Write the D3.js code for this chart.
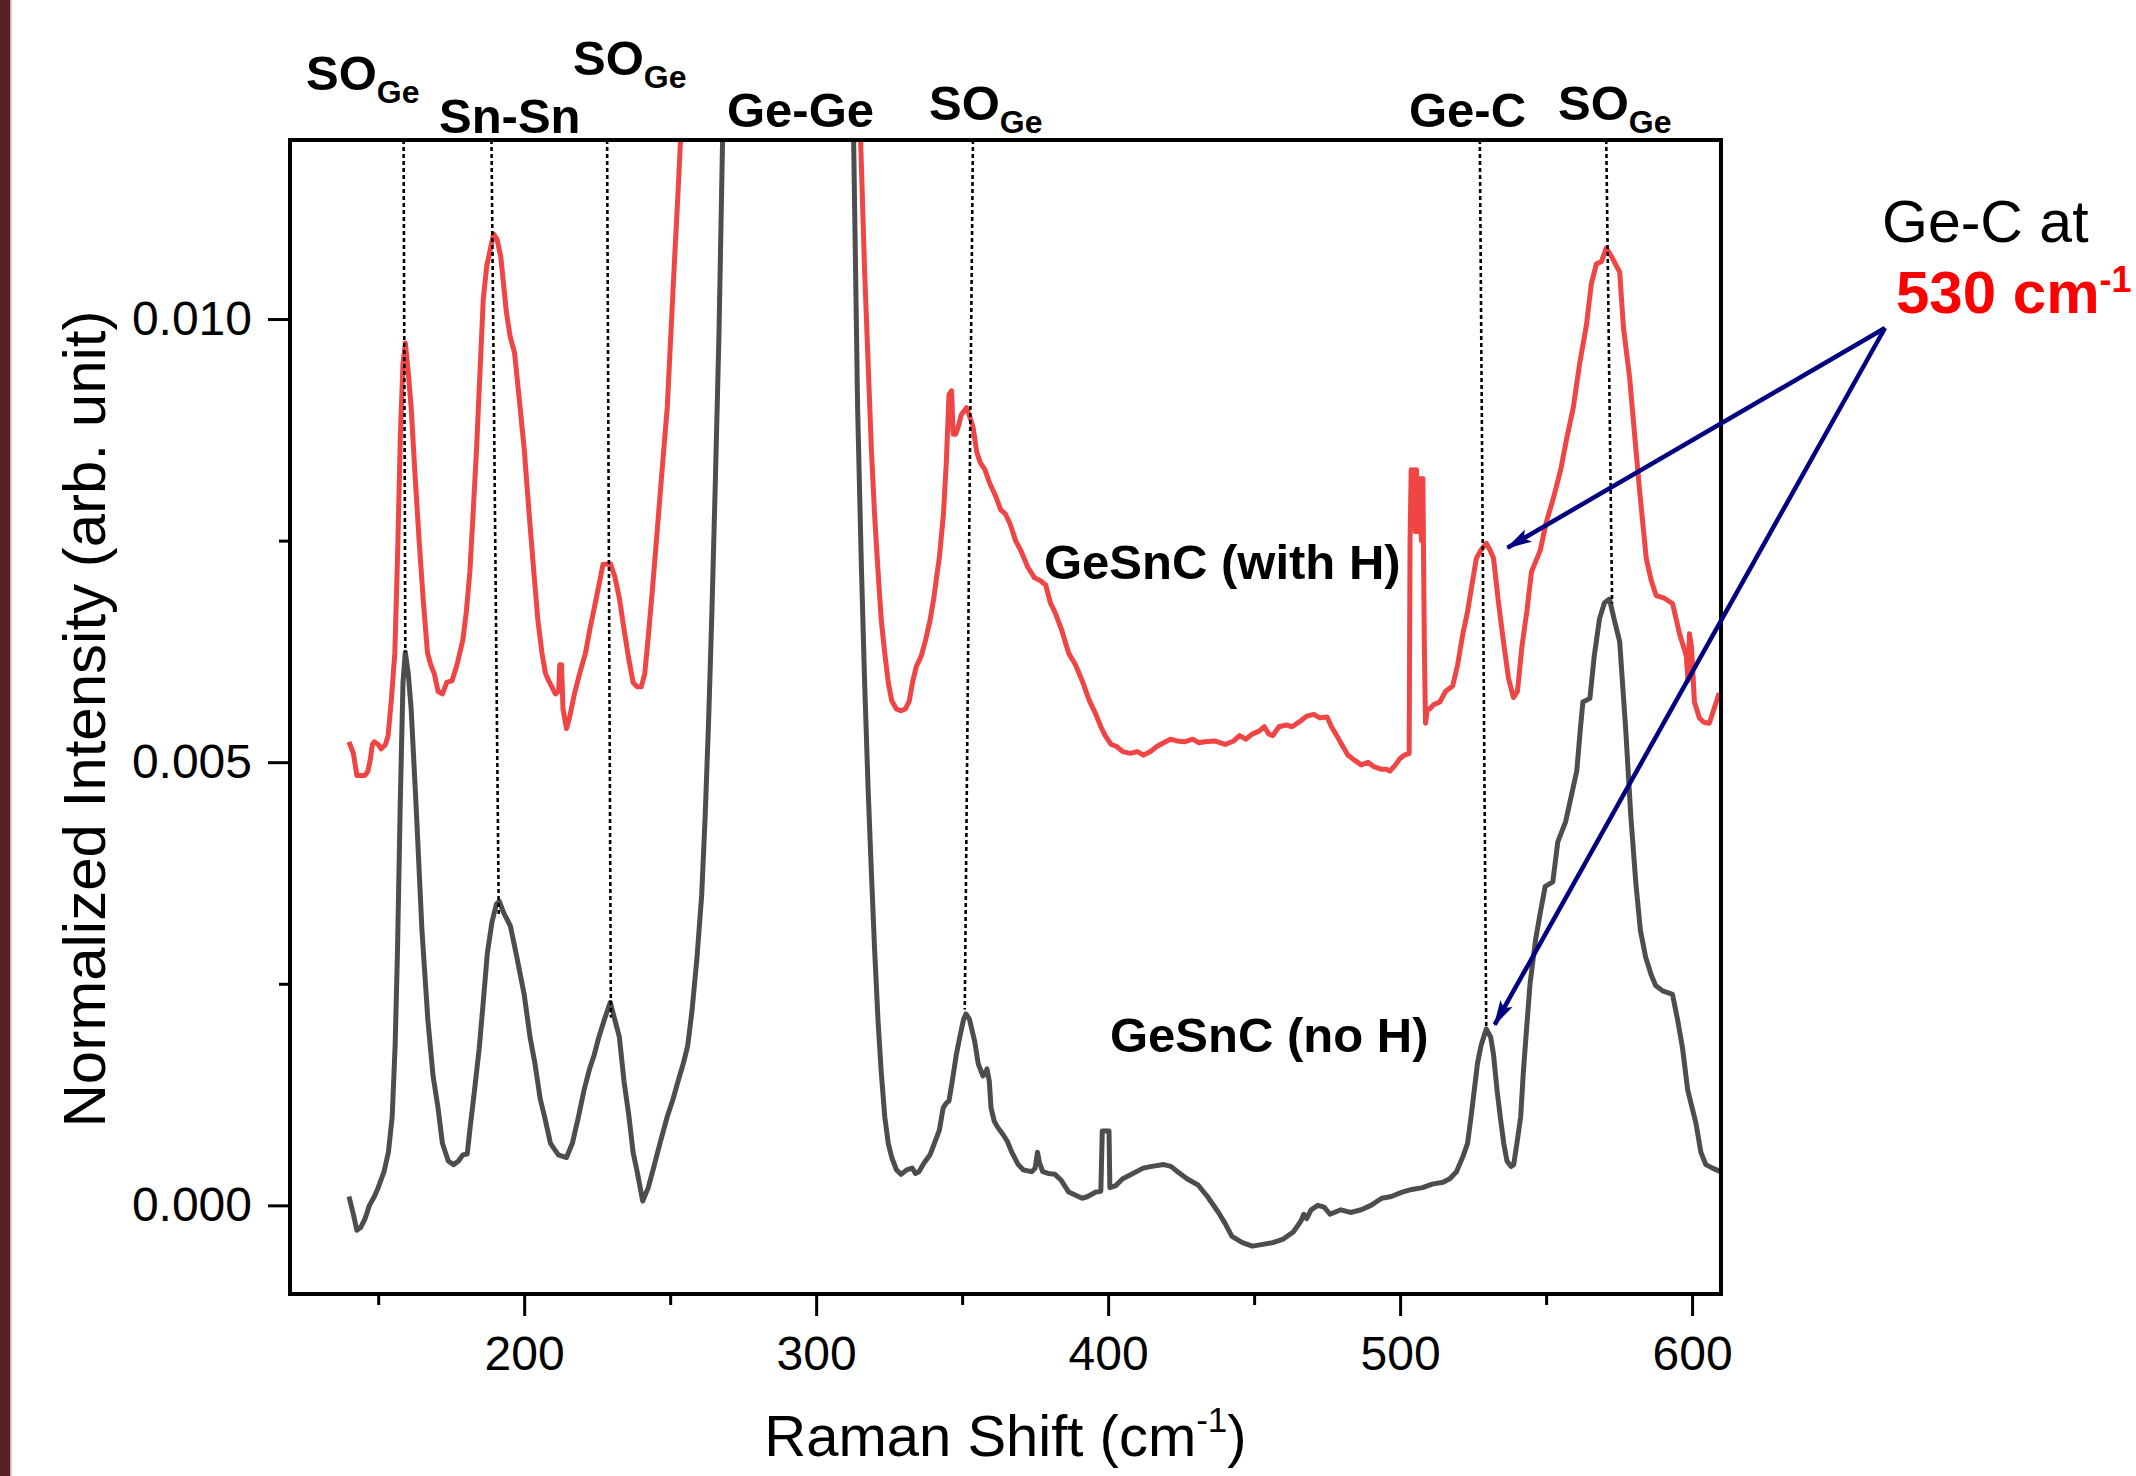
<!DOCTYPE html>
<html>
<head>
<meta charset="utf-8">
<script src="https://cdn.jsdelivr.net/npm/d3@7"></script>
<style>
    body { margin: 0; background: #ffffff; }
    svg text { font-family: "Liberation Sans", Arial, Helvetica, sans-serif; }
</style>
</head>
<body>
<div id="chart"></div>
<script>
(function() {

    // Raman spectrum, GeSnC grown without hydrogen  [shift cm-1, normalized intensity]
    const noH = [
        [140, 0.0001], [141.5, -0.0001], [142.7, -0.00028], [144, -0.00025], [145.5, -0.00015],
        [147, 0.0], [148.7, 0.0001], [150, 0.0002], [152, 0.00038], [153.5, 0.0006],
        [154.8, 0.001], [155.8, 0.0018], [156.6, 0.00285], [157.6, 0.0046], [158.5, 0.0059],
        [159.3, 0.00624], [160.3, 0.006], [161.3, 0.0056], [163, 0.0045], [165, 0.0031],
        [167, 0.0021], [168.8, 0.00146], [170.5, 0.0011], [172, 0.0007], [174, 0.0005],
        [175.8, 0.00046], [177.5, 0.0005], [179, 0.00057], [180.5, 0.00058], [181.4, 0.00085],
        [183, 0.0013], [184.6, 0.00177], [186, 0.0023], [187.4, 0.00285], [189, 0.0032],
        [190.5, 0.0034], [191.5, 0.00343], [193, 0.0033], [195.3, 0.00315], [197.5, 0.0028],
        [200, 0.00238], [202, 0.0019], [203.7, 0.0016], [205.5, 0.0012], [207, 0.001],
        [209, 0.0007], [211.7, 0.00057], [214.5, 0.00054], [216.5, 0.0007], [218.6, 0.001],
        [220.5, 0.0013], [222.4, 0.00154], [224, 0.0017], [225.6, 0.0019], [227.5, 0.0021],
        [229.5, 0.00229], [231, 0.0021], [232.6, 0.0019], [234.2, 0.0014], [235.9, 0.001],
        [237.3, 0.0006], [238.7, 0.00038], [240.6, 0.00005], [242.5, 0.0002], [244.3, 0.00042],
        [246.5, 0.0007], [249, 0.001], [251, 0.0012], [252.7, 0.0014], [254.5, 0.0016],
        [256, 0.0018], [257.5, 0.0022], [259.2, 0.0028], [260.8, 0.0035], [262, 0.0044],
        [263.2, 0.0055], [264.3, 0.0067], [265.5, 0.0082], [266.7, 0.0098], [268, 0.0121],
        [268.8, 0.0132], [null, null],
        [312.2, 0.0132], [312.8, 0.0121], [314.2, 0.009], [315.5, 0.0072], [316.6, 0.0059],
        [317.8, 0.0047], [318.9, 0.00377], [320, 0.0029], [321.2, 0.00208], [322.3, 0.0015],
        [323.5, 0.001], [324.7, 0.0007], [325.9, 0.00054], [327.5, 0.0004], [329.1, 0.00035],
        [331, 0.0004], [332.9, 0.00042], [334, 0.00036], [335.2, 0.00038], [337, 0.00048],
        [339, 0.00057], [340.5, 0.0007], [342.2, 0.00085], [343.5, 0.0011], [344.5, 0.00115],
        [345.5, 0.00118], [346.9, 0.00146], [348, 0.0017], [349.2, 0.0019], [350.5, 0.0021],
        [351.3, 0.00216], [352.5, 0.0021], [354.3, 0.00185], [355.5, 0.0016], [357.1, 0.00146],
        [358, 0.0015], [358.5, 0.00154], [359.3, 0.0014], [359.9, 0.0011], [361, 0.00095],
        [362.2, 0.00088], [364, 0.0008], [365.5, 0.00072], [367, 0.0006], [369.2, 0.00046],
        [371, 0.0004], [373.9, 0.00038], [375, 0.00042], [375.8, 0.0006], [376.5, 0.00048],
        [377.6, 0.00038], [379.5, 0.00036], [381.8, 0.00035], [384, 0.00028], [386.5, 0.00015],
        [388.5, 0.00012], [391.1, 0.00008], [393, 0.0001], [395.8, 0.00015], [397.5, 0.00016],
        [398, 0.00084], [400.3, 0.00084], [400.6, 0.0002], [402.5, 0.00022], [405, 0.0003],
        [408, 0.00035], [412, 0.00042], [415, 0.00044], [419, 0.00046], [421.5, 0.00044],
        [423.8, 0.00038], [427, 0.0003], [430.8, 0.00023], [434, 0.0001], [437.8, -0.00008],
        [440, -0.0002], [442.4, -0.00035], [446, -0.00042], [449.4, -0.00046], [453, -0.00044],
        [456.4, -0.00042], [460, -0.00038], [463.4, -0.0003], [466, -0.00018], [467, -0.0001],
        [468, -0.00015], [469.5, -0.00005], [471.8, 0.0], [474, -0.00002], [476, -0.0001],
        [479.7, -0.00005], [483, -0.00008], [486.7, -0.00005], [490, 0.0], [493.7, 0.00008],
        [497, 0.0001], [500.7, 0.00015], [504, 0.00018], [507.7, 0.0002], [511, 0.00024],
        [514.7, 0.00026], [517, 0.0003], [519.3, 0.00038], [521.5, 0.00055], [523.1, 0.0007],
        [524.3, 0.001], [525.4, 0.0013], [526.5, 0.0016], [527.7, 0.0018], [529.5, 0.00199],
        [531, 0.0019], [532, 0.0017], [533.2, 0.0013], [534.3, 0.001], [535.5, 0.0007],
        [536.6, 0.0005], [538, 0.00044], [538.9, 0.00046], [540, 0.0007], [541.3, 0.001],
        [542.2, 0.0015], [543.1, 0.0019], [544.5, 0.0025], [546.4, 0.003], [548, 0.0033],
        [549.7, 0.0036], [552.3, 0.00365], [554, 0.0041], [556.7, 0.00433], [558.5, 0.0046],
        [560.5, 0.0049], [561.8, 0.0054], [562.6, 0.00568], [565, 0.00572], [566.5, 0.0062],
        [568.3, 0.00662], [570, 0.0068], [571.7, 0.00684], [573.4, 0.0066], [575.2, 0.00636],
        [577.3, 0.00535], [579, 0.0044], [580.7, 0.00365], [582.3, 0.0031], [584.1, 0.0028],
        [586, 0.0026], [587.5, 0.00248], [589.9, 0.00242], [593.3, 0.00238], [595, 0.0021],
        [596.7, 0.00178], [598.5, 0.0013], [601.3, 0.00093], [603, 0.0006], [604.7, 0.00046],
        [607, 0.00042], [609.8, 0.00038]
    ];

    // Raman spectrum, GeSnC grown with hydrogen
    const withH = [
        [140, 0.00523], [141.5, 0.0051], [142.7, 0.00485], [145.5, 0.00485], [146.5, 0.0049],
        [147.3, 0.00503], [148, 0.0052], [148.7, 0.00523], [150, 0.0052], [151, 0.00515],
        [152.5, 0.0052], [153.4, 0.0053], [154.5, 0.0057], [155.7, 0.00623], [156.7, 0.0074],
        [157.6, 0.00869], [158.5, 0.0095], [159.3, 0.00973], [160.3, 0.0094], [161.3, 0.009],
        [162.7, 0.0082], [164.1, 0.00746], [165.5, 0.0068], [166.9, 0.00623], [168, 0.0061],
        [169.2, 0.006], [170.5, 0.0058], [172, 0.00577], [173.5, 0.0059], [175.3, 0.00592],
        [177, 0.0061], [179, 0.00638], [180.2, 0.0067], [181.4, 0.00715], [182.5, 0.0078],
        [183.7, 0.00854], [185, 0.0095], [186, 0.01023], [187.2, 0.0106], [188.3, 0.01077],
        [189.5, 0.01096], [190.7, 0.0109], [192, 0.0107], [193.9, 0.01008], [195.2, 0.0098],
        [196.7, 0.00962], [198.3, 0.0091], [200, 0.00854], [201.7, 0.0078], [203.3, 0.00715],
        [204.7, 0.0066], [206.1, 0.00623], [207.3, 0.006], [208.4, 0.00592], [210.7, 0.00577],
        [211.8, 0.0058], [212.2, 0.0061], [212.8, 0.0061], [213.3, 0.0056], [214.5, 0.00538],
        [215.5, 0.0055], [217.2, 0.00577], [219, 0.006], [221, 0.00623], [222.5, 0.0065],
        [224.2, 0.00677], [225.6, 0.007], [227, 0.00723], [229.5, 0.00724], [231, 0.0071],
        [232.6, 0.00685], [234.2, 0.0065], [235.9, 0.00615], [237.3, 0.0059], [238.7, 0.00585],
        [240.1, 0.00585], [241.3, 0.006], [242.4, 0.00638], [243.8, 0.0069], [245.2, 0.00746],
        [247, 0.0082], [249, 0.009], [250.2, 0.0098], [251.3, 0.01054], [252.5, 0.0113],
        [253.6, 0.01205], [254.4, 0.0128], [null, null],
        [314.6, 0.0128], [315.2, 0.01205], [316.6, 0.01054], [317.8, 0.0095], [318.9, 0.00854],
        [320, 0.0078], [321.2, 0.00715], [322.3, 0.0066], [323.5, 0.00623], [324.7, 0.0059],
        [325.9, 0.00569], [327.5, 0.0056], [329.1, 0.00558], [330.5, 0.0056], [331.9, 0.00569],
        [333, 0.0059], [334.3, 0.00608], [336, 0.0062], [337.5, 0.00638], [339, 0.0066],
        [340.3, 0.00685], [341.3, 0.0071], [342.2, 0.00731], [343.6, 0.0078], [344.6, 0.0084],
        [345.5, 0.00915], [346.4, 0.00919], [346.9, 0.0087], [347.8, 0.0087], [348.8, 0.0088],
        [349.7, 0.00892], [351.5, 0.009], [352.6, 0.0089], [353.8, 0.00877], [355, 0.0085],
        [356.2, 0.00838], [357.8, 0.0083], [359.4, 0.00815], [361.5, 0.008], [363.2, 0.00785],
        [364.8, 0.0078], [366.4, 0.00769], [368.3, 0.0075], [370.2, 0.00738], [372.5, 0.0072],
        [374.8, 0.00708], [376.7, 0.00705], [378.6, 0.007], [380.2, 0.0068], [381.8, 0.00669],
        [384, 0.0065], [386.5, 0.00623], [388.8, 0.0061], [391.1, 0.00592], [393.5, 0.0057],
        [395.8, 0.00554], [397.5, 0.0054], [399, 0.0053], [401, 0.0052], [402.8, 0.00518],
        [405, 0.00512], [407.5, 0.0051], [410, 0.00512], [412.1, 0.00508], [414.5, 0.00512],
        [416.8, 0.00518], [419, 0.00522], [421.4, 0.00526], [423.5, 0.00524], [426.1, 0.00523],
        [429, 0.00526], [431, 0.00522], [433.1, 0.00523], [436.5, 0.00524], [440.1, 0.0052],
        [443, 0.00524], [445, 0.0053], [447.1, 0.00526], [449.5, 0.00532], [451.7, 0.00535],
        [453.5, 0.0054], [455, 0.00532], [456.4, 0.0053], [458.5, 0.0054], [461, 0.00542],
        [463, 0.0054], [465.7, 0.00546], [468, 0.00552], [470.4, 0.00554], [472.5, 0.0055],
        [475, 0.00551], [476.5, 0.0054], [478.3, 0.0053], [480, 0.0052], [482.1, 0.00508],
        [484.5, 0.00502], [486.7, 0.00497], [489, 0.005], [491, 0.00495], [493.7, 0.00492],
        [495.3, 0.00492], [496.5, 0.0049], [498.4, 0.00497], [499.9, 0.00504], [501.5, 0.00508],
        [503.1, 0.0051], [503.4, 0.0075], [503.8, 0.0083], [504.3, 0.0081], [504.8, 0.0083],
        [505.2, 0.0076], [505.6, 0.0083], [506.2, 0.0076], [506.7, 0.0082], [507.3, 0.0075],
        [507.8, 0.0082], [508.3, 0.0063], [508.7, 0.00544], [509.3, 0.0056], [510.1, 0.0056],
        [511.5, 0.00565], [513.6, 0.00568], [515.6, 0.0058], [518, 0.00586], [519.7, 0.0061],
        [521.5, 0.00645], [523.1, 0.0067], [524.6, 0.007], [526.1, 0.0073], [527.8, 0.0074],
        [529.5, 0.00747], [530.7, 0.0074], [532, 0.0073], [533.7, 0.0068], [535.4, 0.00636],
        [537.1, 0.00595], [538.8, 0.00573], [540.2, 0.0058], [541.7, 0.0063], [543.4, 0.0067],
        [545, 0.00715], [548, 0.00739], [550, 0.0077], [552.5, 0.00798], [555, 0.0083],
        [557.1, 0.00866], [559.3, 0.009], [561.5, 0.0095], [563.8, 0.00993], [565.5, 0.0104],
        [567.2, 0.01062], [569, 0.01065], [570.6, 0.0108], [572.5, 0.0107], [575.2, 0.01053],
        [576.5, 0.0099], [578.6, 0.00934], [580.3, 0.0087], [582, 0.00807], [584.3, 0.0073],
        [586, 0.00705], [587.7, 0.00688], [590.5, 0.00685], [593.3, 0.00679], [595.7, 0.00645],
        [598, 0.0062], [598.6, 0.00592], [599.1, 0.00645], [599.8, 0.0063], [600.8, 0.00568],
        [602.5, 0.0055], [604, 0.00545], [605.9, 0.00544], [607.5, 0.0056], [609.3, 0.00578]
    ];

    const xMajor = [200, 300, 400, 500, 600];
    const xMinor = [150, 250, 350, 450, 550];
    const yMajor = [0, 0.005, 0.010];
    const yMinor = [0.0025, 0.0075];

    // guide lines: shift where they leave the top frame, and the no-H peak they drop to
    const peakLines = [
        {top: 158.7, x: 159.3, y: 0.00624},
        {top: 188.8, x: 191.3, y: 0.00327},
        {top: 228.4, x: 229.7, y: 0.00212},
        {top: 353.7, x: 350.9, y: 0.00221},
        {top: 527.3, x: 529.5, y: 0.00199},
        {top: 570.6, x: 572.6, y: 0.00679}
    ];

    const bandNames = [
        {main: "SO", sub: "Ge"}, {main: "Sn-Sn"}, {main: "SO", sub: "Ge"}, {main: "Ge-Ge"},
        {main: "SO", sub: "Ge"}, {main: "Ge-C"}, {main: "SO", sub: "Ge"}
    ];
    const bandLabelAt = [[306, 90], [439, 133], [573, 75], [727, 127], [929, 120], [1409, 127], [1558, 120]];

    // Ge-C peaks the callout points at
    const geCPeaks = [{x: 536.8, y: 0.00742}, {x: 532.4, y: 0.00204}];

    const width = 2136;
    const height = 1476;
    const plot = {left: 290, right: 1721, top: 140, bottom: 1294};

    const x = d3.scaleLinear()
        .domain([119.8, 609.9])
        .range([plot.left, plot.right]);

    const y = d3.scaleLinear()
        .domain([-0.001, 0.01202])
        .range([plot.bottom, plot.top]);

    const svg = d3.select("#chart").append("svg")
        .attr("width", width)
        .attr("height", height)
        .style("display", "block");

    svg.append("rect")
        .attr("width", width)
        .attr("height", height)
        .attr("fill", "#ffffff");

    // dark slide edge on the left
    svg.append("rect")
        .attr("width", 10)
        .attr("height", height)
        .attr("fill", "#5b1f27");
    svg.append("rect")
        .attr("x", 10)
        .attr("width", 1.5)
        .attr("height", height)
        .attr("fill", "#c9b0b3");

    const defs = svg.append("defs");
    defs.append("clipPath")
        .attr("id", "plotClip")
        .append("rect")
        .attr("x", plot.left)
        .attr("y", plot.top)
        .attr("width", plot.right - plot.left)
        .attr("height", plot.bottom - plot.top);

    defs.append("marker")
        .attr("id", "arrowHead")
        .attr("viewBox", "0 0 26 16")
        .attr("refX", 24)
        .attr("refY", 8)
        .attr("markerWidth", 26)
        .attr("markerHeight", 16)
        .attr("markerUnits", "userSpaceOnUse")
        .attr("orient", "auto")
        .append("path")
        .attr("d", "M0,1L26,8L0,15L5,8Z")
        .attr("fill", "#000080");

    const line = d3.line()
        .defined(d => d[0] !== null)
        .x(d => x(d[0]))
        .y(d => y(d[1]));

    const curves = svg.append("g").attr("clip-path", "url(#plotClip)");

    curves.append("path")
        .datum(noH)
        .attr("d", line)
        .attr("fill", "none")
        .attr("stroke", "#4d4d4d")
        .attr("stroke-width", 5)
        .attr("stroke-linejoin", "round");

    curves.append("path")
        .datum(withH)
        .attr("d", line)
        .attr("fill", "none")
        .attr("stroke", "#f04545")
        .attr("stroke-width", 5)
        .attr("stroke-linejoin", "round");

    // dotted peak guides
    svg.append("g")
        .selectAll("line")
        .data(peakLines)
        .join("line")
        .attr("x1", d => x(d.top))
        .attr("y1", plot.top)
        .attr("x2", d => x(d.x))
        .attr("y2", d => y(d.y))
        .attr("stroke", "#000")
        .attr("stroke-width", 2.6)
        .attr("stroke-dasharray", "4,3");

    // frame
    svg.append("rect")
        .attr("x", plot.left)
        .attr("y", plot.top)
        .attr("width", plot.right - plot.left)
        .attr("height", plot.bottom - plot.top)
        .attr("fill", "none")
        .attr("stroke", "#000")
        .attr("stroke-width", 4);

    svg.append("g")
        .attr("transform", `translate(0,${plot.bottom})`)
        .call(d3.axisBottom(x).tickValues(xMajor).tickSize(22).tickPadding(20).tickFormat(d3.format("d")));
    svg.append("g")
        .attr("transform", `translate(0,${plot.bottom})`)
        .call(d3.axisBottom(x).tickValues(xMinor).tickSize(11).tickFormat(""));

    svg.append("g")
        .attr("transform", `translate(${plot.left},0)`)
        .call(d3.axisLeft(y).tickValues(yMajor).tickSize(22).tickPadding(16).tickFormat(d3.format(".3f")));
    svg.append("g")
        .attr("transform", `translate(${plot.left},0)`)
        .call(d3.axisLeft(y).tickValues(yMinor).tickSize(11).tickFormat(""));

    svg.selectAll(".domain").remove();
    svg.selectAll(".tick line").attr("stroke", "#000").attr("stroke-width", 3);
    svg.selectAll(".tick text")
        .attr("fill", "#000")
        .attr("font-size", "48px")
        .attr("font-family", "'Liberation Sans', Arial, sans-serif");

    // axis titles
    const xTitle = svg.append("text")
        .attr("x", (plot.left + plot.right) / 2)
        .attr("y", 1456)
        .attr("text-anchor", "middle")
        .attr("font-size", "58px")
        .attr("fill", "#000");
    xTitle.append("tspan").text("Raman Shift (cm");
    xTitle.append("tspan").text("-1").attr("font-size", "35px").attr("dy", -24);
    xTitle.append("tspan").text(")").attr("dy", 24);

    svg.append("text")
        .attr("transform", `translate(105,${(plot.top + plot.bottom) / 2 + 2}) rotate(-90)`)
        .attr("text-anchor", "middle")
        .attr("font-size", "60px")
        .attr("fill", "#000")
        .text("Normalized Intensity (arb. unit)");

    // band names over the frame
    const bands = svg.append("g")
        .selectAll("text")
        .data(bandNames)
        .join("text")
        .attr("x", (d, i) => bandLabelAt[i][0])
        .attr("y", (d, i) => bandLabelAt[i][1])
        .attr("font-size", "49px")
        .attr("font-weight", "bold")
        .attr("fill", "#000");
    bands.append("tspan").text(d => d.main);
    bands.filter(d => d.sub)
        .append("tspan")
        .text(d => d.sub)
        .attr("font-size", "32px")
        .attr("dy", 13);

    // sample labels
    svg.append("text")
        .attr("x", 1044)
        .attr("y", 579)
        .attr("font-size", "49px")
        .attr("font-weight", "bold")
        .attr("fill", "#000")
        .text("GeSnC (with H)");

    svg.append("text")
        .attr("x", 1110)
        .attr("y", 1052)
        .attr("font-size", "49px")
        .attr("font-weight", "bold")
        .attr("fill", "#000")
        .text("GeSnC (no H)");

    // callout
    svg.append("text")
        .attr("x", 1882)
        .attr("y", 242)
        .attr("font-size", "59px")
        .attr("fill", "#000")
        .text("Ge-C at");

    const callout = svg.append("text")
        .attr("x", 1896)
        .attr("y", 313)
        .attr("font-size", "60px")
        .attr("font-weight", "bold")
        .attr("fill", "#ff0000");
    callout.append("tspan").text("530 cm");
    callout.append("tspan").text("-1").attr("font-size", "36px").attr("dy", -21);

    const origin = [1885, 328];
    svg.append("g")
        .selectAll("line")
        .data(geCPeaks)
        .join("line")
        .attr("x1", origin[0])
        .attr("y1", origin[1])
        .attr("x2", d => x(d.x))
        .attr("y2", d => y(d.y))
        .attr("stroke", "#000080")
        .attr("stroke-width", 4.5)
        .attr("marker-end", "url(#arrowHead)");

})();
</script>
</body>
</html>
